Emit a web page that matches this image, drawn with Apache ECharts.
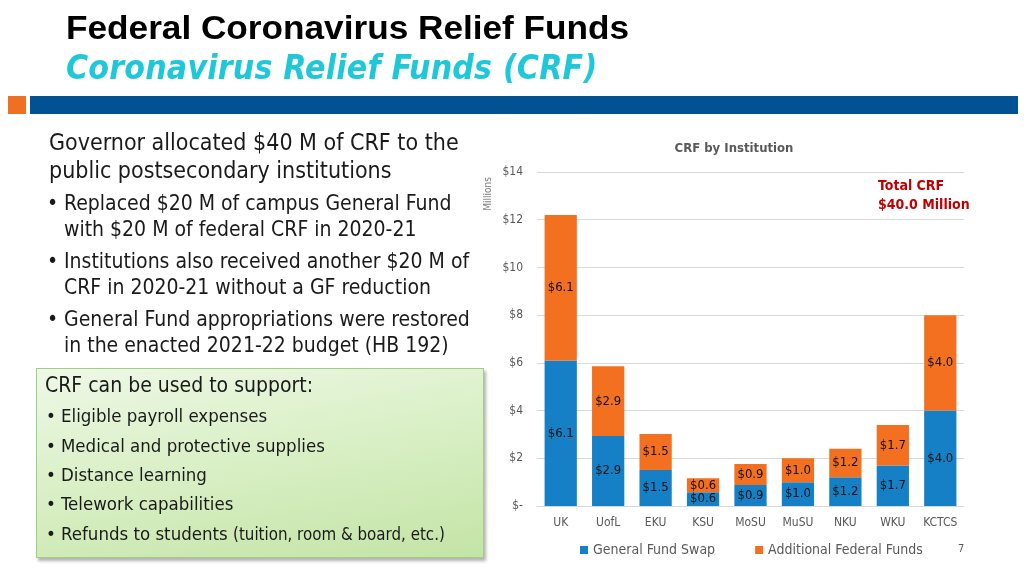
<!DOCTYPE html>
<html><head><meta charset="utf-8">
<script src="https://cdn.jsdelivr.net/npm/echarts@6/dist/echarts.min.js"></script>
<style>
html,body{margin:0;padding:0;width:1024px;height:576px;overflow:hidden;background:#fff;}
#chart{position:absolute;left:0;top:0;width:1024px;height:576px;}
.t{position:absolute;white-space:nowrap;color:#1a1a1a;font-family:"DejaVu Sans Condensed","DejaVu Sans",sans-serif;}
#title{left:66px;top:8px;font-family:"Liberation Sans",sans-serif;font-weight:bold;font-size:34px;color:#000;transform-origin:0 0;transform:scale(1.035,1);}
#sub{left:66px;top:48px;font-family:"DejaVu Sans Condensed","DejaVu Sans",sans-serif;font-weight:bold;font-style:italic;font-size:33.5px;color:#1ec8d8;letter-spacing:0.2px;}
#sq{position:absolute;left:8px;top:96px;width:18px;height:18px;background:#f07023;}
#bar{position:absolute;left:30px;top:96px;width:988px;height:18px;background:#005293;}
#box{position:absolute;left:36px;top:368px;width:446px;height:188px;background:linear-gradient(170deg,#eef8e6 0%,#d8efc4 50%,#c4e4a6 100%);border:1px solid #a3cc86;box-shadow:2px 3px 3px rgba(0,0,0,0.3);}
</style></head>
<body>
<div id="chart"></div>
<div id="title" class="t">Federal Coronavirus Relief Funds</div>
<div id="sub" class="t">Coronavirus Relief Funds (CRF)</div>
<div id="sq"></div><div id="bar"></div>
<div id="box"></div>
<div class="t" style="left:49px;top:129px;font-size:23px;">Governor allocated $40 M of CRF to the</div>
<div class="t" style="left:49px;top:157px;font-size:23px;">public postsecondary institutions</div>
<div class="t" style="left:47px;top:191px;font-size:21px;">•</div>
<div class="t" style="left:64px;top:191px;font-size:21px;">Replaced $20 M of campus General Fund</div>
<div class="t" style="left:64px;top:217px;font-size:21px;">with $20 M of federal CRF in 2020-21</div>
<div class="t" style="left:47px;top:249px;font-size:21px;">•</div>
<div class="t" style="left:64px;top:249px;font-size:21px;">Institutions also received another $20 M of</div>
<div class="t" style="left:64px;top:275px;font-size:21px;">CRF in 2020-21 without a GF reduction</div>
<div class="t" style="left:47px;top:307px;font-size:21px;">•</div>
<div class="t" style="left:64px;top:307px;font-size:21px;">General Fund appropriations were restored</div>
<div class="t" style="left:64px;top:333px;font-size:21px;">in the enacted 2021-22 budget (HB 192)</div>
<div class="t" style="left:45px;top:373px;font-size:21px;">CRF can be used to support:</div>
<div class="t" style="left:46px;top:405px;font-size:18.5px;">•</div>
<div class="t" style="left:61px;top:405px;font-size:18.5px;">Eligible payroll expenses</div>
<div class="t" style="left:46px;top:435px;font-size:18.5px;">•</div>
<div class="t" style="left:61px;top:435px;font-size:18.5px;">Medical and protective supplies</div>
<div class="t" style="left:46px;top:464px;font-size:18.5px;">•</div>
<div class="t" style="left:61px;top:464px;font-size:18.5px;">Distance learning</div>
<div class="t" style="left:46px;top:493px;font-size:18.5px;">•</div>
<div class="t" style="left:61px;top:493px;font-size:18.5px;">Telework capabilities</div>
<div class="t" style="left:46px;top:523px;font-size:18.5px;">•</div>
<div class="t" style="left:61px;top:523px;font-size:18.5px;">Refunds to students <span style="font-size:16.8px;">(tuition, room &amp; board, etc.)</span></div>
<script>
const categories = ['UK','UofL','EKU','KSU','MoSU','MuSU','NKU','WKU','KCTCS'];
const generalFundSwap = [6.1, 2.93, 1.51, 0.58, 0.88, 1.0, 1.2, 1.7, 4.0];
const additionalFederal = [6.1, 2.93, 1.51, 0.58, 0.88, 1.0, 1.2, 1.7, 4.0];
const seriesNames = ['General Fund Swap','Additional Federal Funds'];
const yTicks = {0:'$-',2:'$2',4:'$4',6:'$6',8:'$8',10:'$10',12:'$12',14:'$14'};

const FONT = '"DejaVu Sans Condensed","DejaVu Sans",sans-serif';
const chart = echarts.init(document.getElementById('chart'), null, {renderer:'canvas'});
const lbl = {show:true, position:'inside', color:'#111', fontFamily:FONT, fontSize:13,
  formatter: p => '$' + p.value.toFixed(1)};
chart.setOption({
  animation:false,
  textStyle:{fontFamily:FONT},
  title:{text:'CRF by Institution', left:729, top:137, textAlign:'center',
    textStyle:{fontSize:13, fontWeight:'bold', color:'#595959', fontFamily:FONT}},
  legend:{bottom:14, left:575, itemWidth:8, itemHeight:8, itemGap:40, icon:'rect',
    textStyle:{fontSize:14, color:'#595959', fontFamily:FONT}, data:seriesNames},
  grid:{left:537, right:60, top:172, bottom:70},
  xAxis:{type:'category', data:categories, axisTick:{show:false},
    axisLine:{lineStyle:{color:'#d9d9d9'}},
    axisLabel:{color:'#595959', fontSize:12, margin:11, fontFamily:FONT}},
  yAxis:{type:'value', min:0, max:14, interval:2,
    axisLine:{show:false}, axisTick:{show:false},
    splitLine:{lineStyle:{color:'#d9d9d9'}},
    axisLabel:{color:'#595959', fontSize:12, margin:14, fontFamily:FONT, formatter:v => yTicks[v]}},
  graphic:[
    {type:'text', x:488, y:194, rotation:Math.PI/2, style:{text:'Millions', fill:'#7f7f7f',
      font:'10px '+FONT, align:'center', verticalAlign:'middle'}},
    {type:'text', left:878, top:177, style:{text:'Total CRF\n$40.0 Million', fill:'#c00000',
      font:'bold 14px '+FONT, lineHeight:19}},
    {type:'text', left:958, top:544, style:{text:'7', fill:'#595959', font:'11px '+FONT}}
  ],
  series:[
    {name:seriesNames[0], type:'bar', stack:'a', data:generalFundSwap, barWidth:'68%',
      itemStyle:{color:'#1580c6'}, label:lbl},
    {name:seriesNames[1], type:'bar', stack:'a', data:additionalFederal, barWidth:'68%',
      itemStyle:{color:'#f37021'}, label:lbl}
  ]
});
</script>
</body></html>
